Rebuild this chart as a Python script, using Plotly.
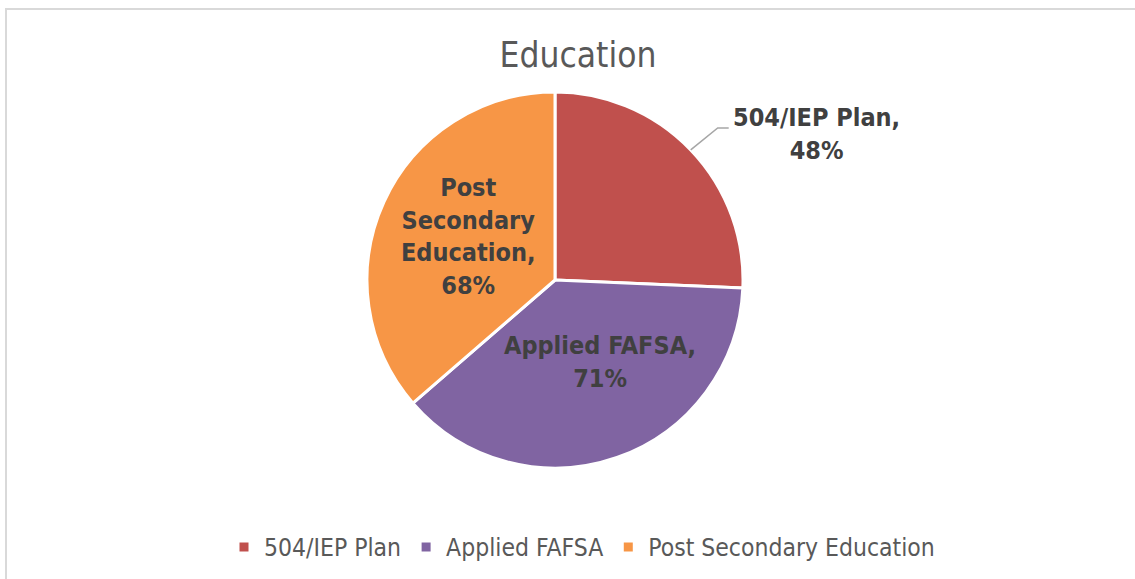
import math
import plotly.graph_objects as go

categories = ["504/IEP Plan", "Applied FAFSA", "Post Secondary Education"]
values = [48, 71, 68]
display_labels = ["504/IEP Plan,", "Applied FAFSA,", "Post<br>Secondary<br>Education,"]
colors = ["#C0504D", "#8064A2", "#F79646"]

W, H = 1135, 579
cx, cy, r = 555, 280, 188
FONT = "DejaVu Sans Condensed, DejaVu Sans"
LABEL_FONT = dict(family=FONT, size=25, color="#404040", weight="bold")


def px(x):
    return x / W


def py(y):
    return 1 - y / H


fig = go.Figure(go.Pie(
    labels=categories,
    values=values,
    sort=False,
    direction="clockwise",
    rotation=0,
    marker=dict(colors=colors, line=dict(color="white", width=3)),
    textinfo="none",
    automargin=False,
    hoverinfo="label+value",
    domain=dict(x=[(cx - r) / W, (cx + r) / W], y=[(H - cy - r) / H, (H - cy + r) / H]),
))

# data labels placed at each slice's mid-angle (computed from the values)
total = sum(values)
cum = 0
mids = []
for v in values:
    mids.append(2 * math.pi * (cum + v / 2) / total)
    cum += v

shapes = [dict(type="rect", xref="paper", yref="paper", x0=px(6), x1=1.01, y0=-0.01, y1=py(9),
               line=dict(color="#D9D9D9", width=2), fillcolor="rgba(0,0,0,0)", layer="below")]
annotations = []

# slice 0: outside label with elbow leader line
th = mids[0]
ex, ey = cx + r * math.sin(th), cy - r * math.cos(th)
kx, ky = ex + 27, ey - 22
tx = kx + 11
shapes.append(dict(type="path", xref="paper", yref="paper",
                   path=f"M {px(ex)} {py(ey)} L {px(kx)} {py(ky)} L {px(tx)} {py(ky)}",
                   line=dict(color="#A6A6A6", width=1.5)))
annotations.append(dict(xref="paper", yref="paper", x=px(tx + 2), y=py(ky + 6),
                        xanchor="left", yanchor="middle", align="center", showarrow=False,
                        text=f"{display_labels[0]}<br>{values[0]}%", font=LABEL_FONT))

# slices 1, 2: inside labels
nudges = {1: (11, -16), 2: (7, -1)}
for i in (1, 2):
    th = mids[i]
    lx = cx + 0.55 * r * math.sin(th) + nudges[i][0]
    ly = cy - 0.55 * r * math.cos(th) + nudges[i][1]
    annotations.append(dict(xref="paper", yref="paper", x=px(lx), y=py(ly),
                            xanchor="center", yanchor="middle", align="center", showarrow=False,
                            text=f"{display_labels[i]}<br>{values[i]}%", font=LABEL_FONT))

fig.update_layout(
    width=W, height=H,
    margin=dict(l=0, r=0, t=0, b=0),
    paper_bgcolor="white",
    title=dict(text="Education", x=578 / W, xanchor="center", y=py(55), yanchor="middle",
               font=dict(family=FONT, size=35, color="#595959")),
    legend=dict(orientation="h", x=px(582), xanchor="center", y=py(547), yanchor="middle",
                font=dict(family=FONT, size=24.5, color="#595959"),
                itemwidth=30),
    shapes=shapes,
    annotations=annotations,
)

fig.write_html("out.html", config={"displayModeBar": False},
               post_script="document.body.style.margin='0';")
